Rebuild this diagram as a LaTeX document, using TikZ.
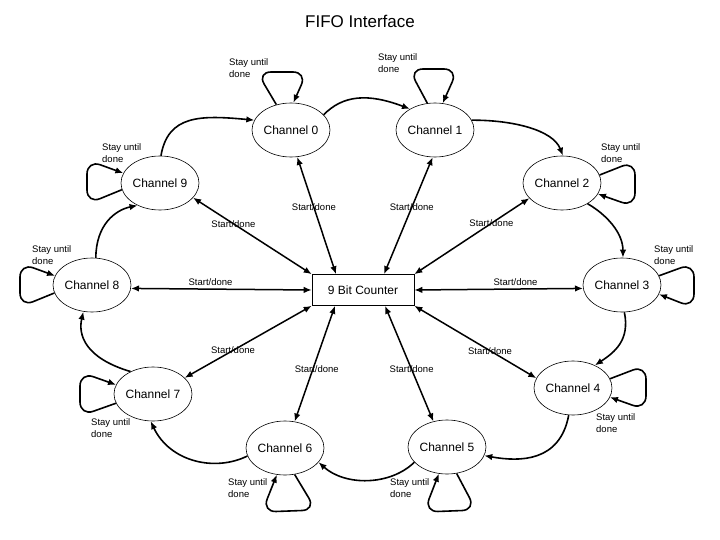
\documentclass[tikz,border=0pt]{standalone}
\usepackage{fontspec}
\setmainfont{Liberation Sans}
\usetikzlibrary{shapes.geometric,arrows.meta}

\tikzset{
	chan/.style={draw, ellipse, line width=0.6pt, minimum width=78pt, minimum height=54pt, inner sep=0pt, font=\fontsize{12}{14}\selectfont},
	counter/.style={draw, rectangle, line width=0.6pt, minimum width=102pt, minimum height=31pt, font=\fontsize{12}{14}\selectfont},
	stay/.style={anchor=west, align=left, inner sep=0pt, font=\fontsize{9.5}{12}\selectfont},
	sdlabel/.style={inner sep=0pt, font=\fontsize{9.5}{12}\selectfont},
	ring/.style={->, line width=1.6pt},
	stayloop/.style={->, line width=1.6pt, rounded corners=14pt},
	sd/.style={<->, line width=1.5pt}
}

\begin{document}
\begin{tikzpicture}[x=1pt, y=-1pt, >={Latex[length=8pt,width=6.5pt]}]

	\useasboundingbox (0,0) rectangle (720,540);

	\node[font=\fontsize{17}{20}\selectfont] (title) at (360,21) {FIFO Interface};

	% the ten channels and the counter
	\node[chan] (ch0) at (291,130) {Channel 0};
	\node[chan] (ch1) at (435,130) {Channel 1};
	\node[chan] (ch2) at (562,183) {Channel 2};
	\node[chan] (ch3) at (622,285) {Channel 3};
	\node[chan] (ch4) at (573,388) {Channel 4};
	\node[chan] (ch5) at (447,447) {Channel 5};
	\node[chan] (ch6) at (285,448) {Channel 6};
	\node[chan] (ch7) at (153,394) {Channel 7};
	\node[chan] (ch8) at (92,285)  {Channel 8};
	\node[chan] (ch9) at (160,183) {Channel 9};
	\node[counter] (cnt) at (363,290) {9 Bit Counter};

	% stay until done
	\node[stay] (st0) at (229,68)  {Stay until\\done};
	\node[stay] (st1) at (378,63)  {Stay until\\done};
	\node[stay] (st2) at (601,153) {Stay until\\done};
	\node[stay] (st3) at (654,255) {Stay until\\done};
	\node[stay] (st4) at (596,423) {Stay until\\done};
	\node[stay] (st5) at (390,488) {Stay until\\done};
	\node[stay] (st6) at (228,488) {Stay until\\done};
	\node[stay] (st7) at (91,428)  {Stay until\\done};
	\node[stay] (st8) at (32,255)  {Stay until\\done};
	\node[stay] (st9) at (102,153) {Stay until\\done};

	\draw[stayloop] (ch0.120) -- (257,72) -- (307,72) -- (ch0.85);
	\draw[stayloop] (ch1.106) -- (409,69) -- (458,69) -- (ch1.74);
	\draw[stayloop] (ch2.12) -- (635,161) -- (635,207) -- (ch2.343);
	\draw[stayloop] (ch3.14) -- (694,263) -- (694,308) -- (ch3.346);
	\draw[stayloop] (ch4.14) -- (646,365) -- (646,410) -- (ch4.346);
	\draw[stayloop] (ch5.290) -- (476,510) -- (424,512) -- (ch5.253);
	\draw[stayloop] (ch6.290) -- (316,510) -- (262,512) -- (ch6.253);
	\draw[stayloop] (ch7.194) -- (80,416) -- (80,372) -- (ch7.166);
	\draw[stayloop] (ch8.192) -- (20,307) -- (20,263) -- (ch8.166);
	\draw[stayloop] (ch9.190) -- (87,204) -- (87,160) -- (ch9.165);

	% channel to next channel
	\draw[ring] (ch0.25) .. controls (343,95) and (368,93) .. (ch1.140);
	\draw[ring] (ch1.15) .. controls (513,120) and (553,130) .. (ch2.88);
	\draw[ring] (ch2.321) .. controls (607,215) and (623,233) .. (ch3.88);
	\draw[ring] (ch3.275) .. controls (630,340) and (615,352) .. (ch4.46);
	\draw[ring] (ch4.261) .. controls (560,462) and (520,462) .. (ch5.347);
	\draw[ring] (ch5.205) .. controls (390,486) and (345,486) .. (ch6.337);
	\draw[ring] (ch6.192) .. controls (215,472) and (170,462) .. (ch7.265);
	\draw[ring] (ch7.135) .. controls (85,358) and (78,335) .. (ch8.252);
	\draw[ring] (ch8.82) .. controls (96,225) and (115,210) .. (ch9.225);
	\draw[ring] (ch9.88) .. controls (168,115) and (200,115) .. (ch0.165);

	% start/done to the counter
	\draw[sd] (ch0.283) -- node[sdlabel, pos=0.43] (sd0) {Start/done} ([xshift=-27pt]cnt.north);
	\draw[sd] (ch1.265) -- node[sdlabel, pos=0.43] (sd1) {Start/done} ([xshift=21pt]cnt.north);
	\draw[sd] (ch2.205) -- node[sdlabel, pos=0.33] (sd2) {Start/done} (cnt.north east);
	\draw[sd] (ch3.185) -- node[sdlabel, pos=0.4, anchor=base, yshift=4pt] (sd3) {Start/done} (cnt.east);
	\draw[sd] (ch4.165) -- node[sdlabel, pos=0.38] (sd4) {Start/done} (cnt.south east);
	\draw[sd] (ch5.118) -- node[sdlabel, pos=0.45] (sd5) {Start/done} ([xshift=22pt]cnt.south);
	\draw[sd] (ch6.70) -- node[sdlabel, pos=0.45, xshift=4pt] (sd6) {Start/done} ([xshift=-28pt]cnt.south);
	\draw[sd] (ch7.27) -- node[sdlabel, pos=0.38] (sd7) {Start/done} (cnt.south west);
	\draw[sd] (ch8.355) -- node[sdlabel, pos=0.44, anchor=base, yshift=4pt] (sd8) {Start/done} (cnt.west);
	\draw[sd] (ch9.336) -- node[sdlabel, pos=0.34] (sd9) {Start/done} (cnt.north west);
\end{tikzpicture}
\end{document}
